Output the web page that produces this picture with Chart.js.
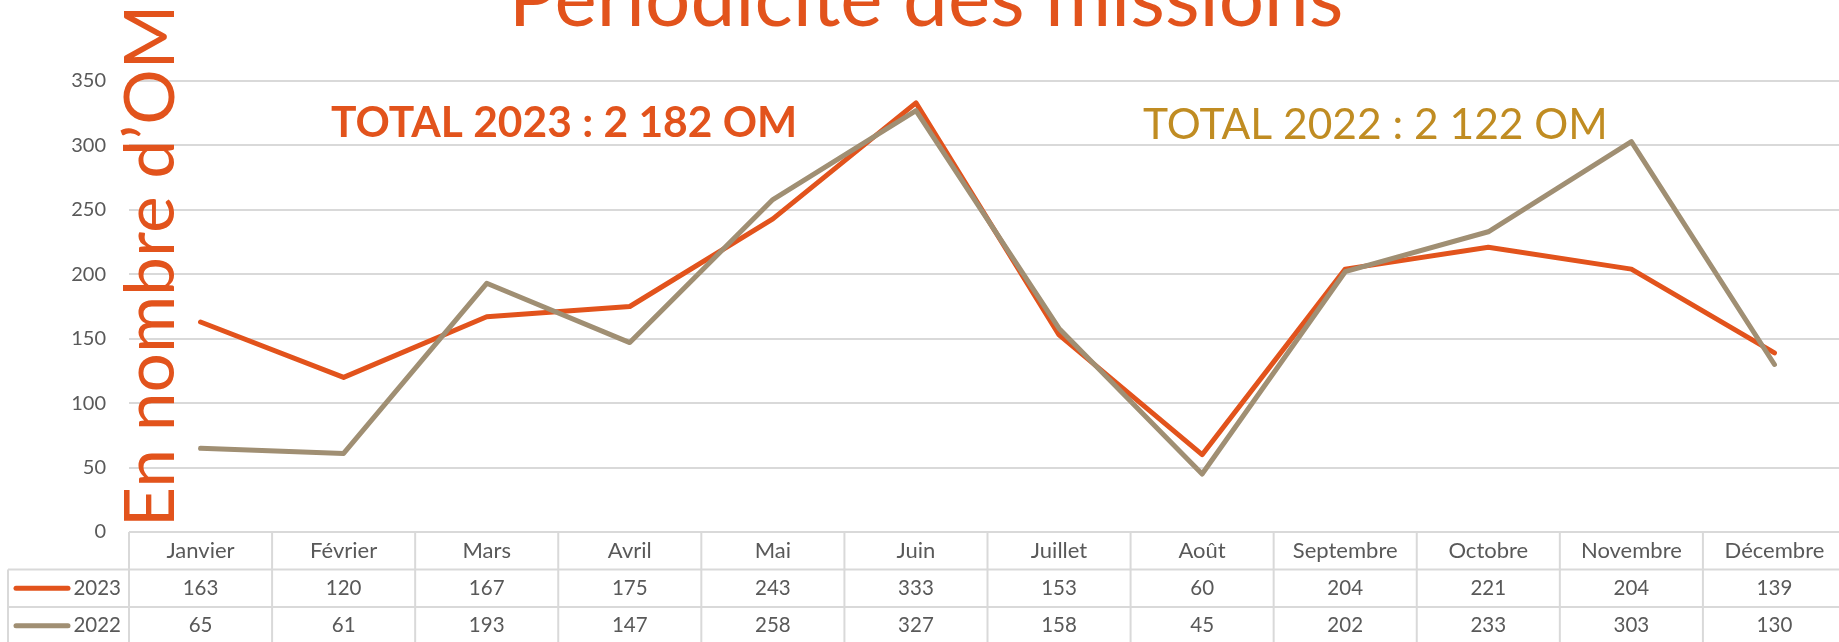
<!DOCTYPE html>
<html>
<head>
<meta charset="utf-8">
<script src="https://cdn.jsdelivr.net/npm/chart.js@4"></script>
<style>
  html, body { margin: 0; padding: 0; background: #fff; overflow: hidden; }
  #wrap { width: 1846px; height: 642px; }
</style>
</head>
<body>
<div id="wrap"><canvas id="chart" width="1846" height="642"></canvas></div>
<script>
// Data
const months = ["Janvier", "Février", "Mars", "Avril", "Mai", "Juin", "Juillet", "Août", "Septembre", "Octobre", "Novembre", "Décembre"];
const missions2023 = [163, 120, 167, 175, 243, 333, 153, 60, 204, 221, 204, 139];
const missions2022 = [65, 61, 193, 147, 258, 327, 158, 45, 202, 233, 303, 130];
const seriesLabels = ["2023", "2022"];
const yTicks = [0, 50, 100, 150, 200, 250, 300, 350];

const chartTitle = "Périodicité des missions";
const axisTitle = "En nombre d’OM";
const total2023 = "TOTAL 2023 : 2 182 OM";
const total2022 = "TOTAL 2022 : 2 122 OM";

const ORANGE = "#e2531c";
const TAUPE = "#a08f73";
const GOLD = "#c08c22";
const GRID = "#d9d9d9";
const TEXT = "#595959";
const FONT = "Lato, 'Open Sans', sans-serif";

// Data table under the plot (month names + values + legend keys)
const dataTable = {
    id: "dataTable",
    afterDraw(chart) {
        const { ctx, chartArea } = chart;
        const x = chart.scales.x;
        const rowH = 37.5;
        const top = chartArea.bottom;
        const colW = (chartArea.right - chartArea.left) / months.length;
        const rows = [missions2023, missions2022];
        const colors = [ORANGE, TAUPE];

        ctx.save();
        ctx.strokeStyle = GRID;
        ctx.lineWidth = 2;

        // horizontal rules
        for (let r = 1; r <= 3; r++) {
            ctx.beginPath();
            ctx.moveTo(8, top + r * rowH);
            ctx.lineTo(chartArea.right, top + r * rowH);
            ctx.stroke();
        }
        // column rules
        for (let c = 0; c <= months.length; c++) {
            const cx = chartArea.left + c * colW;
            ctx.beginPath();
            ctx.moveTo(cx, top);
            ctx.lineTo(cx, chart.height);
            ctx.stroke();
        }
        ctx.beginPath();
        ctx.moveTo(8, top + rowH);
        ctx.lineTo(8, chart.height);
        ctx.stroke();

        ctx.fillStyle = TEXT;
        ctx.textAlign = "center";
        ctx.textBaseline = "middle";
        ctx.font = `22px ${FONT}`;
        months.forEach((m, i) => {
            ctx.fillText(m, x.getPixelForValue(i), top + rowH / 2);
        });
        ctx.font = `20.5px ${FONT}`;
        rows.forEach((vals, r) => {
            const cy = top + rowH * (r + 1.5);
            vals.forEach((v, i) => {
                ctx.fillText(String(v), x.getPixelForValue(i), cy);
            });
        });

        // legend keys
        rows.forEach((vals, r) => {
            const cy = top + rowH * (r + 1.5);
            ctx.strokeStyle = colors[r];
            ctx.lineWidth = 5;
            ctx.lineCap = "round";
            ctx.beginPath();
            ctx.moveTo(16, cy);
            ctx.lineTo(68, cy);
            ctx.stroke();
            ctx.textAlign = "right";
            ctx.fillText(seriesLabels[r], 121, cy);
        });
        ctx.restore();
    }
};

// Title, axis title and totals
const annotations = {
    id: "annotations",
    afterDraw(chart) {
        const { ctx } = chart;
        ctx.save();
        ctx.fillStyle = ORANGE;
        ctx.textBaseline = "alphabetic";

        ctx.font = `80px ${FONT}`;
        ctx.textAlign = "center";
        ctx.fillText(chartTitle, 926, 26);

        ctx.save();
        ctx.translate(174, 527);
        ctx.rotate(-Math.PI / 2);
        ctx.font = `69.5px ${FONT}`;
        ctx.textAlign = "left";
        ctx.fillText(axisTitle, 0, 0);
        ctx.restore();

        ctx.textAlign = "left";
        ctx.font = `bold 42.5px ${FONT}`;
        ctx.fillText(total2023, 331, 137);

        ctx.fillStyle = GOLD;
        ctx.font = `42.5px ${FONT}`;
        ctx.fillText(total2022, 1143, 139);
        ctx.restore();
    }
};

new Chart(document.getElementById("chart"), {
    type: "line",
    data: {
        labels: months,
        datasets: [
            {
                label: seriesLabels[0],
                data: missions2023,
                borderColor: ORANGE,
                borderWidth: 5,
                order: 1
            },
            {
                label: seriesLabels[1],
                data: missions2022,
                borderColor: TAUPE,
                borderWidth: 5,
                order: 0
            }
        ]
    },
    options: {
        responsive: false,
        animation: false,
        layout: { padding: { top: 81, bottom: 110, left: 0, right: 0 } },
        elements: {
            point: { radius: 0 },
            line: { tension: 0, borderJoinStyle: "round", borderCapStyle: "round" }
        },
        scales: {
            x: {
                type: "category",
                display: false,
                offset: true
            },
            y: {
                min: yTicks[0],
                max: yTicks[yTicks.length - 1],
                afterBuildTicks: (scale) => { scale.ticks = yTicks.map(v => ({ value: v })); },
                afterFit: (scale) => { scale.width = 129; },
                grid: { color: GRID, lineWidth: 2, drawTicks: false },
                border: { display: false },
                ticks: {
                    color: TEXT,
                    padding: 23,
                    font: { family: FONT, size: 20 }
                }
            }
        },
        plugins: {
            legend: { display: false },
            tooltip: { enabled: false },
            title: { display: false }
        }
    },
    plugins: [dataTable, annotations]
});
</script>
</body>
</html>
